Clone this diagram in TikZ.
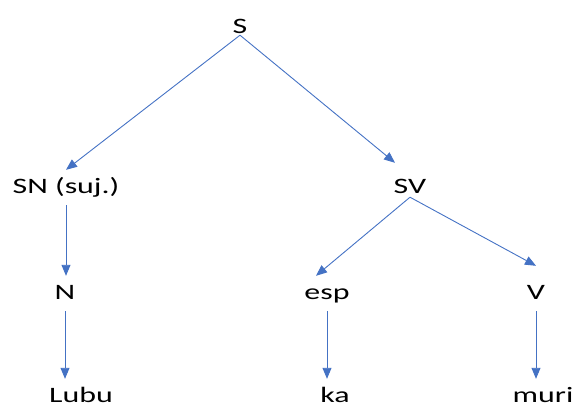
\documentclass[tikz,border=0pt]{standalone}
\usepackage{fontspec}
\setmainfont{Carlito}[FakeStretch=1.45]
\usepackage{xcolor}
\usetikzlibrary{arrows.meta}
\definecolor{treeblue}{HTML}{4472C4}

\begin{document}
\begin{tikzpicture}[
            x=1pt, y=-1pt,
            cat/.style={
                anchor=base,
                font=\fontsize{22}{26}\selectfont,
                text height=15pt,
                text depth=4pt,
                inner xsep=2pt,
                inner ysep=8pt
            },
            branch/.style={
                draw=treeblue,
                line width=0.9pt,
                -{Triangle[length=11pt,width=9pt]}
            }
        ]
        \useasboundingbox (0,0) rectangle (577,407);

        \node[cat] (S)    at (240, 33)   {S};
        \node[cat] (SN)   at (66, 193)   {SN (suj.)};
        \node[cat] (SV)   at (410, 193)  {SV};
        \node[cat] (N)    at (65, 299)   {N};
        \node[cat] (esp)  at (327, 299)  {esp};
        \node[cat] (V)    at (536, 299)  {V};
        \node[cat] (Lubu) at (81, 402)   {Lubu};
        \node[cat] (ka)   at (335, 402)  {ka};
        \node[cat] (muri) at (543, 402)  {muri};

        \draw[branch] ([yshift=10pt]S.south) -- (SN.north);
        \draw[branch] ([yshift=10pt]S.south) -- ([xshift=-15pt,yshift=7pt]SV.north);
        \draw[branch] ([yshift=8pt]SV.south) -- ([xshift=-11pt]esp.north);
        \draw[branch] ([yshift=8pt]SV.south) -- ([yshift=10pt]V.north);
        \draw[branch] (SN.south) -- (SN.south |- N.north);
        \draw[branch] (N.south) -- (N.south |- Lubu.north);
        \draw[branch] (esp.south) -- (esp.south |- ka.north);
        \draw[branch] (V.south) -- (V.south |- muri.north);
        \end{tikzpicture}
\end{document}
